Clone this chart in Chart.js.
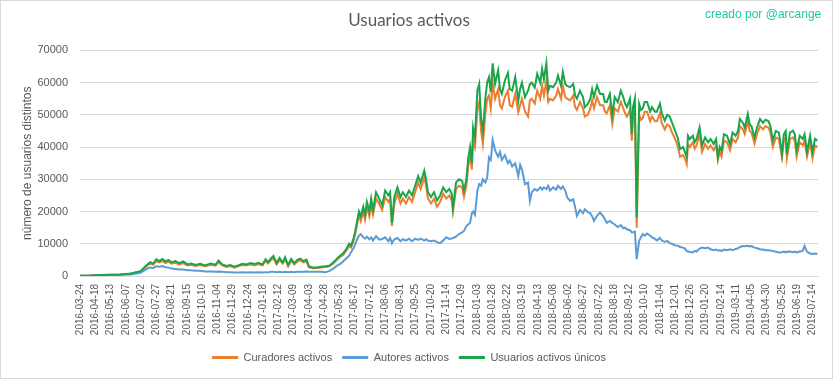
<!DOCTYPE html>
<html><head><meta charset="utf-8">
<script src="https://cdn.jsdelivr.net/npm/chart.js@4/dist/chart.umd.min.js"></script>
<style>
html,body{margin:0;padding:0;background:#fff;}
#wrap{position:relative;width:833px;height:379px;}
#credit{position:absolute;left:705px;top:7px;font:12px 'Liberation Sans',sans-serif;color:#1dc9a4;white-space:nowrap;}
</style></head><body>
<div id="wrap"><canvas id="c" width="833" height="379" style="width:833px;height:379px"></canvas><div id="credit">creado por @arcange</div></div>
<script>
const tickLabels = ['2016-03-24','2016-04-18','2016-05-13','2016-06-07','2016-07-02','2016-07-27','2016-08-21','2016-09-15','2016-10-10','2016-11-04','2016-11-29','2016-12-24',
'2017-01-18','2017-02-12','2017-03-09','2017-04-03','2017-04-28','2017-05-23','2017-06-17','2017-07-12','2017-08-06','2017-08-31','2017-09-25','2017-10-20','2017-11-14','2017-12-09',
'2018-01-03','2018-01-28','2018-02-22','2018-03-19','2018-04-13','2018-05-08','2018-06-02','2018-06-27','2018-07-22','2018-08-18','2018-09-12','2018-10-10','2018-11-04','2018-12-01','2018-12-26',
'2019-01-20','2019-02-14','2019-03-11','2019-04-05','2019-04-30','2019-05-25','2019-06-19','2019-07-14'];

// day position (category index) of each sampled point
const dayIdx = [0,17,34,50,66,83,92,99,106,110,115,120,125,130,135,140,145,150,156,163,169,176,182,189,197,
205,214,222,227,233,240,246,253,259,266,273,279,286,292,299,304,308,313,317,322,327,332,336,341,346,351,356,361,366,371,375,382,389,395,402,
408,415,421,426,431,436,441,444,448,451,454,457,460,464,467,470,474,477,480,485,490,495,500,505,508,511,515,520,525,529,534,539,544,549,554,558,564,567,570,575,580,585,590,595,600,605,
609,611,616,621,626,629,633,636,639,642,644,647,651,654,657,660,664,667,670,673,676,680,685,688,691,696,701,704,708,713,718,721,724,729,734,737,740,745,749,754,757,760,764,767,770,775,780,783,788,791,795,798,803,808,811,814,819,824,827,832,836,839,842,847,852,857,860,863,868,872,876,881,886,890,893,896,901,904,906,909,912,916,919,922,925,929,934,937,942,945,950,953,958,962,966,970,975,979,983,988,991,994,996,999,
1004,1007,1010,1015,1019,1024,1029,1033,1038,1042,1045,1048,1051,1055,1060,1065,1069,1074,1078,1081,1086,1089,1094,1097,1100,1105,1109,1114,1119,1123,1128,1131,1135,1140,1145,1150,1153,1156,1158,1163,1168,1171,1174,1179,1184,1187,1191,1196,1200,1204,1208];

const curadores = [100,150,300,350,450,700,1100,1400,2600,3200,3800,3500,4600,4200,4700,4000,4500,3800,4100,3600,4000,3300,3500,3100,3400,
3000,3500,3200,4300,3300,2800,3100,2600,3000,3400,3300,3600,3300,3700,3300,4700,3900,5000,5600,3600,5000,3800,5200,3000,4800,3600,4500,4900,4200,4600,2700,2400,2500,2600,2800,
3000,3900,5000,5900,6500,7800,9300,8800,10800,13200,16000,19000,17000,20000,17500,21500,18500,22000,19000,24000,22500,20500,24500,23000,24000,15500,22500,25500,22500,24000,22500,24500,23000,26000,29000,27000,30500,28000,24000,22500,24000,21500,23000,25500,24000,25000,
23500,20000,27000,28000,27500,24500,28000,34000,37000,33000,
42000,40000,52000,54000,45000,41000,50000,55000,56000,52000,
60000,55000,58000,53000,52000,55500,57500,53000,52500,56500,
50800,53000,55000,51000,49500,54500,55000,53500,57500,55000,
59000,56000,60500,54000,55000,54500,56000,58000,55000,59000,
55500,55000,54500,56000,52500,51500,54000,52000,49500,50000,
52000,54500,52000,55500,53000,53000,51000,50500,53000,47200,
52000,51000,54000,52000,50500,49500,51500,42000,49500,51500,
15000,50000,48500,49000,51000,51000,48000,49500,48000,48000,
50500,47500,45500,47000,46500,44500,42500,40500,37000,37500,
36500,34700,41000,40000,
41500,39500,40500,44000,38500,41000,39500,40500,39000,40500,
36000,38500,37000,42000,41500,39000,42500,41500,43000,46500,
45500,44000,48000,45000,44500,41000,44000,46500,45500,46500,
46000,44500,40000,43000,42500,36800,42000,43000,36500,42500,
43000,42000,37000,41500,40500,42000,37000,41500,36500,40500,
40000];

const autores = [50,100,200,300,350,500,800,1000,1800,2300,2600,2500,3000,2900,3100,2700,2600,2300,2200,2000,2000,1800,1800,1600,1600,
1400,1400,1300,1400,1300,1200,1200,1100,1100,1200,1100,1200,1100,1200,1100,1200,1100,1300,1300,1200,1300,1200,1300,1200,1300,1200,1300,1300,1300,1400,1300,1300,1300,1300,1200,
1500,2300,3200,3700,4500,5400,6300,7400,8600,10000,11400,12500,13000,12000,11600,12200,11400,12000,11000,12400,11300,11500,12000,10800,11800,10200,11400,11800,10800,11400,11000,11600,10800,11600,11200,11600,11000,11400,11000,10800,11000,10500,10200,11000,12000,11500,
11600,11800,12200,13000,13500,14000,15500,16000,16500,19500,
20000,19000,26500,28500,28000,30000,29000,30500,36800,36000,
42200,39000,37000,38500,36000,37500,35000,35800,34000,35000,
31000,34500,33000,28500,29000,23300,26000,27000,26500,27500,
26800,27500,27000,28000,26500,27500,26800,28000,27000,27800,
26500,24400,23300,23800,21500,18700,20500,19500,20700,19800,
19500,18500,17100,18700,19700,18500,17500,16500,17100,16500,
16000,15200,15800,14800,15000,14500,14200,13500,13600,13800,
5200,10900,12000,13000,12500,13200,12500,12000,11500,11000,
11800,11000,10600,10900,10200,10000,9500,9400,9000,8800,
8500,7800,7600,7500,
7300,7800,7600,8500,8800,8600,8800,8300,8000,8200,
7900,8000,7800,8200,8000,8300,8000,8400,8600,9000,
9300,9200,9400,9200,9300,8800,8600,8300,8200,8000,
8000,7900,7800,7500,7300,7400,7600,7300,7500,7600,
7400,7600,7300,7600,7800,9300,7500,7000,6800,7000,
6800];

const unicos = [100,150,300,400,500,800,1200,1500,2800,3500,4300,3800,5200,4600,5300,4500,5000,4200,4600,4000,4500,3600,3900,3400,3800,
3300,3900,3500,4800,3600,3100,3400,2900,3300,3800,3600,4000,3700,4100,3600,5200,4300,5500,6200,4000,5600,4200,5800,3400,5300,4000,5000,5400,4600,5100,3000,2600,2700,2900,3000,
3200,4200,5400,6300,7000,8300,10000,9400,11500,14000,17000,20000,18500,21500,19000,23000,20000,24000,20500,26000,24000,22000,26500,25000,26000,16500,24500,27500,24500,26000,24500,26500,25000,28000,31000,29000,32700,30000,26000,24500,26000,23500,25000,27500,26000,27000,
25500,21000,29000,30000,29500,26500,30000,36500,40000,35000,
46000,43000,57500,59600,49000,45000,55000,60000,61700,57000,
66000,59600,63800,58000,56500,60600,63000,58000,57500,61700,
54400,58000,60000,55500,57500,59500,60000,58500,62700,60000,
64300,61000,66000,57500,59000,58600,60000,62200,59000,63300,
59600,59000,58600,59600,56000,55000,57500,55500,52400,53400,
55000,58000,55500,59100,56500,56500,54000,54000,56500,50000,
55500,54000,57500,55500,53500,52400,55000,44000,52400,55000,
18100,53400,51500,52000,54000,54000,51000,52400,51000,51000,
53500,50500,48200,50000,49500,47500,45000,43000,39400,40000,
38500,37000,43500,42500,
43500,41500,42500,46100,40500,43000,41500,42500,41000,42500,
36800,40000,38800,44000,43500,40800,44500,43500,45000,48700,
47500,46000,50300,47000,46500,43000,46000,48700,47500,48500,
48000,46500,42000,45000,44500,37800,44000,45000,37800,44500,
45100,44000,39000,43500,42500,44000,38500,43500,38500,42500,
42000];

const toPoints = vals => dayIdx.map((d, i) => ({x: d, y: vals[i]}));

const bgPlugin = {
  id: 'bg',
  beforeDraw(chart) {
    const ctx = chart.ctx;
    ctx.save();
    ctx.fillStyle = '#fff';
    ctx.fillRect(0, 0, chart.width, chart.height);
    ctx.strokeStyle = '#d9d9d9';
    ctx.lineWidth = 1;
    ctx.strokeRect(0.5, 0.5, chart.width - 1, chart.height - 1);
    ctx.restore();
  }
};

const grey = '#595959';
new Chart(document.getElementById('c'), {
  type: 'line',
  data: {
    datasets: [
      {label: 'Curadores activos', data: toPoints(curadores), borderColor: '#ED7D31', backgroundColor: '#ED7D31', order: 3},
      {label: 'Autores activos', data: toPoints(autores), borderColor: '#5B9BD5', backgroundColor: '#5B9BD5', order: 2},
      {label: 'Usuarios activos únicos', data: toPoints(unicos), borderColor: '#1AA54B', backgroundColor: '#1AA54B', order: 1}
    ]
  },
  options: {
    responsive: false,
    animation: false,
    layout: {padding: {left: 0, right: 15, top: 0, bottom: 6}},
    elements: {line: {borderWidth: 2, tension: 0}, point: {radius: 0}},
    plugins: {
      tooltip: {enabled: false},
      title: {display: true, text: 'Usuarios activos', color: grey,
        font: {family: 'Lato', size: 17, weight: 'normal'}, padding: {top: 10, bottom: 20}},
      legend: {
        position: 'bottom',
        labels: {
          boxWidth: 26, boxHeight: 3, padding: 10, color: grey,
          font: {family: 'Liberation Sans', size: 11},
          sort: (a, b) => a.datasetIndex - b.datasetIndex,
          generateLabels: chart => Chart.defaults.plugins.legend.labels.generateLabels(chart).map(l => { l.lineWidth = 0; return l; })
        }
      }
    },
    scales: {
      x: {
        type: 'linear', min: 0, max: 1209,
        grid: {display: false, drawTicks: false},
        border: {display: true, color: '#d9d9d9'},
        afterBuildTicks(axis) { axis.ticks = tickLabels.map((_, i) => ({value: i * 25})); },
        ticks: {autoSkip: false, maxRotation: 90, minRotation: 90, padding: 8, color: grey,
          font: {family: 'Liberation Sans', size: 10},
          callback: v => tickLabels[Math.round(v / 25)]},
        afterFit(s) { s.height = 66; }
      },
      y: {
        min: 0, max: 70000,
        grid: {color: '#d9d9d9', drawTicks: false},
        border: {display: false},
        ticks: {stepSize: 10000, padding: 12, color: grey, font: {family: 'Liberation Sans', size: 11},
          callback: v => String(v)},
        title: {display: true, text: 'número de usuarios distintos', color: grey,
          font: {family: 'Liberation Sans', size: 12}, padding: {top: 20, bottom: 0}},
        afterFit(s) { s.width = 80; }
      }
    }
  },
  plugins: [bgPlugin]
});
</script>
</body></html>
